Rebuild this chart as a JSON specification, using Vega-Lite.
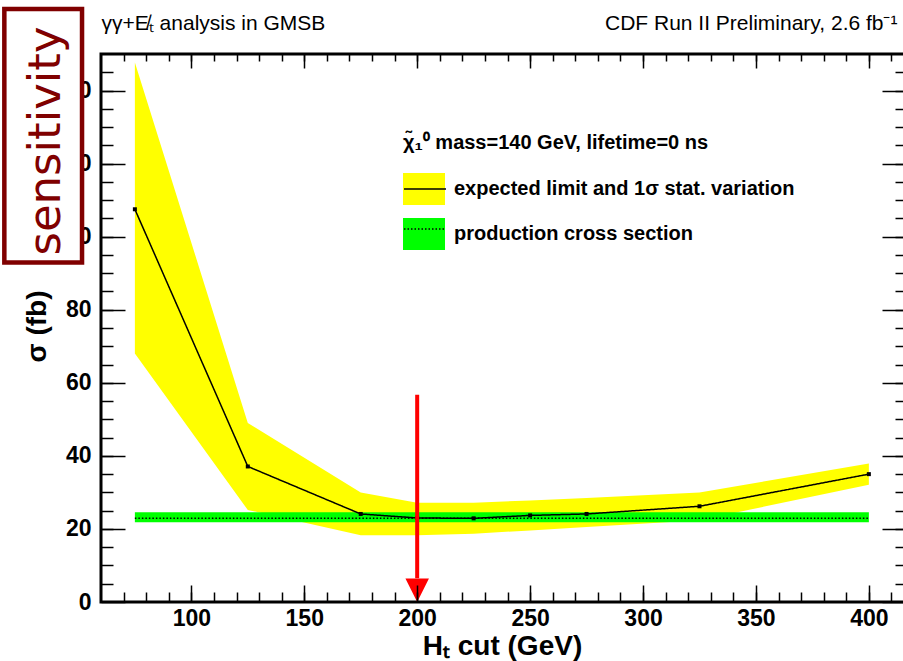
{
  "$schema": "https://vega.github.io/schema/vega-lite/v6.json",
  "width": 804,
  "height": 548,
  "autosize": {"type": "none"},
  "padding": {"left": 101, "top": 54, "right": 0, "bottom": 59},
  "background": "white",
  "datasets": {
    "limit": [
      {"HT": 75, "expected": 107.5, "low": 68.0, "high": 147.7},
      {"HT": 125, "expected": 37.1, "low": 25.2, "high": 49.0},
      {"HT": 175, "expected": 24.1, "low": 18.3, "high": 30.0},
      {"HT": 200, "expected": 23.0, "low": 18.3, "high": 27.2},
      {"HT": 225, "expected": 22.9, "low": 18.7, "high": 27.2},
      {"HT": 250, "expected": 23.7, "low": 19.6, "high": 27.8},
      {"HT": 275, "expected": 24.1, "low": 20.5, "high": 28.5},
      {"HT": 325, "expected": 26.2, "low": 22.4, "high": 30.0},
      {"HT": 400, "expected": 35.0, "low": 32.1, "high": 37.9}
    ],
    "xsec": [{"HT_from": 75, "HT_to": 400, "low": 21.8, "high": 24.6, "sigma": 22.9}],
    "cut": [{"HT": 200, "top": 56.7, "bottom": 6.5, "tip": 3.2}],
    "note": [{"note": "sensitivity", "x_from": 17.2, "x_to": 51.6, "y_from": 92.9, "y_to": 162.3, "x_mid": 35.6, "y_mid": 126.2}]
  },
  "layer": [
    {
      "data": {"name": "limit"},
      "mark": {"type": "area", "opacity": 1},
      "encoding": {
        "x": {"field": "HT", "type": "quantitative",
          "scale": {"domain": [60, 416], "nice": false, "zero": false},
          "axis": {"orient": "bottom", "values": [100, 150, 200, 250, 300, 350, 400], "ticks": false, "labelPadding": 5, "labelFontSize": 23, "labelFontWeight": "bold", "labelFlush": false, "labelOverlap": false, "title": "Hₜ cut (GeV)", "titleFontSize": 28, "titleFontWeight": "bold", "titleX": 401, "titleY": 44, "titleAlign": "center", "titleBaseline": "middle", "zindex": 0}},
        "y": {"field": "low", "type": "quantitative",
          "scale": {"domain": [0, 150], "nice": false, "zero": false},
          "axis": {"orient": "left", "values": [0, 20, 40, 60, 80, 100, 120, 140], "ticks": false, "labelPadding": 10, "labelFontSize": 23, "labelFontWeight": "bold", "labelFlush": false, "labelOverlap": false, "title": "σ (fb)", "titleFontSize": 28, "titleFontWeight": "bold", "titleX": -64, "titleY": 272, "titleAngle": 270, "titleAlign": "center", "titleBaseline": "middle", "zindex": 0}},
        "y2": {"field": "high"},
        "color": {"datum": "expected limit and 1σ stat. variation", "type": "nominal",
          "scale": {"domain": ["expected limit and 1σ stat. variation", "production cross section"], "range": ["#ffff00", "#00ff00"]},
          "legend": {"orient": "none", "legendX": 302, "legendY": 79, "title": "χ̃₁⁰ mass=140 GeV, lifetime=0 ns", "titleFont": "Liberation Sans", "titleFontSize": 20, "titleFontWeight": "bold", "titleColor": "black", "titlePadding": 15, "titleLimit": 600, "labelFont": "Liberation Sans", "labelFontSize": 20, "labelFontWeight": "bold", "labelColor": "black", "labelLimit": 600, "labelOffset": 9, "symbolType": "M-1,-0.76H1V0.76H-1Z", "symbolSize": 1764, "symbolStrokeWidth": 0, "symbolOpacity": 1, "rowPadding": 8, "zindex": 0}}
      }
    },
    {
      "data": {"name": "xsec"},
      "mark": {"type": "rect", "opacity": 1},
      "encoding": {
        "x": {"field": "HT_from", "type": "quantitative",
          "axis": {"orient": "bottom", "values": [100, 150, 200, 250, 300, 350, 400], "labels": false, "tickSize": -17, "title": null, "zindex": 1}},
        "x2": {"field": "HT_to"},
        "y": {"field": "low", "type": "quantitative",
          "axis": {"orient": "left", "values": [0, 20, 40, 60, 80, 100, 120, 140], "labels": false, "tickSize": -24, "title": null, "zindex": 1}},
        "y2": {"field": "high"},
        "color": {"datum": "production cross section", "type": "nominal"}
      }
    },
    {
      "data": {"name": "xsec"},
      "mark": {"type": "rule", "color": "black", "strokeWidth": 1.5},
      "encoding": {
        "x": {"field": "HT_from", "type": "quantitative",
          "axis": {"orient": "bottom", "values": [70, 80, 90, 100, 110, 120, 130, 140, 150, 160, 170, 180, 190, 200, 210, 220, 230, 240, 250, 260, 270, 280, 290, 300, 310, 320, 330, 340, 350, 360, 370, 380, 390, 400, 410], "labels": false, "tickSize": -10, "title": null, "zindex": 1}},
        "x2": {"field": "HT_to"},
        "y": {"field": "sigma", "type": "quantitative",
          "axis": {"orient": "left", "values": [5, 10, 15, 20, 25, 30, 35, 40, 45, 50, 55, 60, 65, 70, 75, 80, 85, 90, 95, 100, 105, 110, 115, 120, 125, 130, 135, 140, 145], "labels": false, "tickSize": -12, "title": null, "zindex": 1}},
        "strokeDash": {"datum": "production cross section", "type": "nominal",
          "scale": {"domain": ["expected limit", "production cross section"], "range": [[1, 0], [1.5, 2]]},
          "legend": {"orient": "none", "legendX": 302, "legendY": 113, "title": null, "labelExpr": "''", "labelFontSize": 20, "symbolType": "stroke", "symbolSize": 1764, "symbolStrokeColor": "black", "symbolStrokeWidth": 1.5, "rowPadding": 8, "zindex": 2}}
      }
    },
    {
      "data": {"name": "limit"},
      "mark": {"type": "line", "color": "black", "strokeWidth": 1.5},
      "encoding": {
        "x": {"field": "HT", "type": "quantitative",
          "axis": {"orient": "top", "values": [100, 150, 200, 250, 300, 350, 400], "labels": false, "tickSize": -14, "title": "CDF Run II Preliminary, 2.6 fb⁻¹", "titleFontWeight": "normal", "titleFontSize": 21, "titleAlign": "right", "titleAnchor": "end", "titleX": 796, "titleY": -25, "titleBaseline": "alphabetic", "zindex": 1}},
        "y": {"field": "expected", "type": "quantitative",
          "axis": {"orient": "right", "values": [0, 20, 40, 60, 80, 100, 120, 140], "labels": false, "tickSize": -23, "title": null, "zindex": 1}},
        "strokeDash": {"datum": "expected limit", "type": "nominal"}
      }
    },
    {
      "data": {"name": "limit"},
      "mark": {"type": "point", "shape": "square", "filled": true, "size": 16, "color": "black", "opacity": 1},
      "encoding": {
        "x": {"field": "HT", "type": "quantitative",
          "axis": {"orient": "top", "values": [70, 80, 90, 100, 110, 120, 130, 140, 150, 160, 170, 180, 190, 200, 210, 220, 230, 240, 250, 260, 270, 280, 290, 300, 310, 320, 330, 340, 350, 360, 370, 380, 390, 400, 410], "labels": false, "tickSize": -7, "title": "γγ+E̸ₜ analysis in GMSB", "titleFontWeight": "normal", "titleFontSize": 21, "titleAlign": "left", "titleAnchor": "start", "titleX": 0, "titleY": -25, "titleBaseline": "alphabetic", "zindex": 1}},
        "y": {"field": "expected", "type": "quantitative",
          "axis": {"orient": "right", "values": [5, 10, 15, 20, 25, 30, 35, 40, 45, 50, 55, 60, 65, 70, 75, 80, 85, 90, 95, 100, 105, 110, 115, 120, 125, 130, 135, 140, 145], "labels": false, "tickSize": -10, "title": null, "zindex": 1}}
      }
    },
    {
      "data": {"name": "cut"},
      "mark": {"type": "rule", "color": "#ff0000", "strokeWidth": 4},
      "encoding": {
        "x": {"field": "HT", "type": "quantitative", "axis": null},
        "y": {"field": "top", "type": "quantitative", "axis": null},
        "y2": {"field": "bottom"}
      }
    },
    {
      "data": {"name": "cut"},
      "mark": {"type": "point", "shape": "M-1,-1L1,-1L0,1Z", "filled": true, "size": 552, "color": "#ff0000", "opacity": 1},
      "encoding": {
        "x": {"field": "HT", "type": "quantitative", "axis": null},
        "y": {"field": "tip", "type": "quantitative", "axis": null}
      }
    },
    {
      "data": {"name": "note"},
      "mark": {"type": "rect", "fill": "white", "stroke": "#800000", "strokeWidth": 4.5, "clip": false},
      "encoding": {
        "x": {"field": "x_from", "type": "quantitative", "axis": null},
        "x2": {"field": "x_to"},
        "y": {"field": "y_from", "type": "quantitative", "axis": null},
        "y2": {"field": "y_to"}
      }
    },
    {
      "data": {"name": "note"},
      "mark": {"type": "text", "angle": 270, "font": "DejaVu Sans", "fontSize": 45, "color": "#800000", "align": "center", "baseline": "middle", "clip": false},
      "encoding": {
        "x": {"field": "x_mid", "type": "quantitative", "axis": null},
        "y": {"field": "y_mid", "type": "quantitative", "axis": null},
        "text": {"field": "note"}
      }
    }
  ],
  "resolve": {"axis": {"x": "independent", "y": "independent"}},
  "config": {
    "view": {"stroke": "black", "strokeWidth": 3},
    "axis": {"domain": false, "grid": false, "tickColor": "black", "tickWidth": 1.5, "labelFont": "Liberation Sans", "labelColor": "black", "titleFont": "Liberation Sans", "titleColor": "black"}
  }
}
